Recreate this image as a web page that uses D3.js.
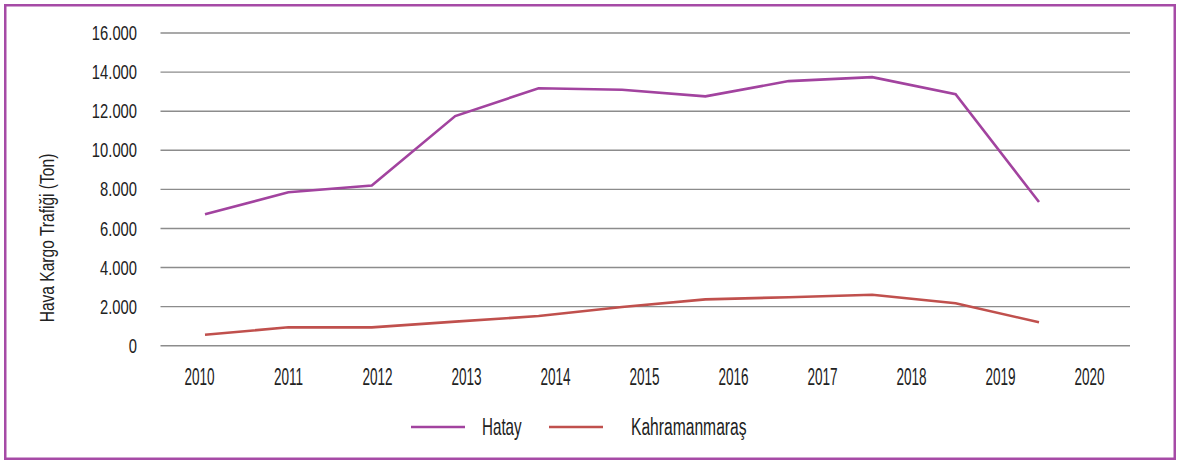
<!DOCTYPE html>
<html><head><meta charset="utf-8">
<script src="https://cdn.jsdelivr.net/npm/d3@7"></script>
<style>
body{margin:0;background:#fff;}
text{font-family:"Liberation Sans",Arial,sans-serif;fill:#222;}
</style></head>
<body>
<svg id="c" width="1177" height="461"></svg>
<script>
const years = [2010,2011,2012,2013,2014,2015,2016,2017,2018,2019,2020];
const hatay = [6720,7850,8200,11750,13170,13100,12760,13540,13740,12870,7350];
const kahramanmaras = [560,940,940,1230,1520,1980,2370,2480,2610,2170,1200];
const yTicks = [0,2000,4000,6000,8000,10000,12000,14000,16000];
const seriesNames = ["Hatay","Kahramanmaraş"];
const seriesColors = ["#a2439f","#c0504d"];

const FONT = '"Liberation Sans",Arial,sans-serif';
const svg = d3.select("#c");
svg.append("rect").attr("x",5.25).attr("y",5.25).attr("width",1169.5).attr("height",453.5)
  .attr("fill","#fff").attr("stroke","#a64ba6").attr("stroke-width",2.5);

const y = d3.scaleLinear().domain([0,16000]).range([345.7,33]);
const xLab = d3.scalePoint().domain(years).range([199,1089]);
const xLine = d3.scalePoint().domain(years).range([205,1039]);

const fmt = v => d3.format(",")(v).replace(/,/g,".");

// gridlines
svg.append("g").selectAll("line").data(yTicks).join("line")
  .attr("x1",160.5).attr("x2",1130).attr("y1",d=>y(d)).attr("y2",d=>y(d))
  .attr("stroke","#8c8c8c").attr("stroke-width",1.4);

// y axis labels
const yAxis = d3.axisLeft(y).tickValues(yTicks).tickFormat(fmt).tickSize(0).tickPadding(0);
const gy = svg.append("g").attr("transform","translate(137,0)").call(yAxis);
gy.select(".domain").remove();
gy.selectAll("text").attr("font-size",20.5).style("font-family",FONT).attr("fill","#222")
  .attr("transform","scale(0.72,1)");

// x axis labels
const xAxis = d3.axisBottom(xLab).tickSize(0).tickPadding(0);
const gx = svg.append("g").attr("transform","translate(0,384.5)").call(xAxis);
gx.select(".domain").remove();
gx.selectAll("text").attr("font-size",23).style("font-family",FONT).attr("fill","#222")
  .attr("dy",null).attr("y",0).attr("transform","scale(0.59,1)");

// y title
svg.append("text").attr("transform","translate(54,238) rotate(-90) scale(0.76,1)")
  .attr("text-anchor","middle").attr("font-size",20.5).text("Hava Kargo Trafiği (Ton)");

const line = d3.line().x((d,i)=>xLine(years[i])).y(d=>y(d));
[hatay,kahramanmaras].forEach((s,k)=>{
  svg.append("path").datum(s).attr("d",line).attr("fill","none")
    .attr("stroke",seriesColors[k]).attr("stroke-width",2.6).attr("stroke-linejoin","miter");
});

// legend
const legX = [411,549];
const legTextX = [482,631];
const legScale = [0.66,0.68];
seriesNames.forEach((n,k)=>{
  svg.append("line").attr("x1",legX[k]).attr("x2",legX[k]+54).attr("y1",427).attr("y2",427)
    .attr("stroke",seriesColors[k]).attr("stroke-width",2.6);
  svg.append("text").attr("transform",`translate(${legTextX[k]},435) scale(${legScale[k]},1)`)
    .attr("font-size",23).text(n);
});
</script>
</body></html>
